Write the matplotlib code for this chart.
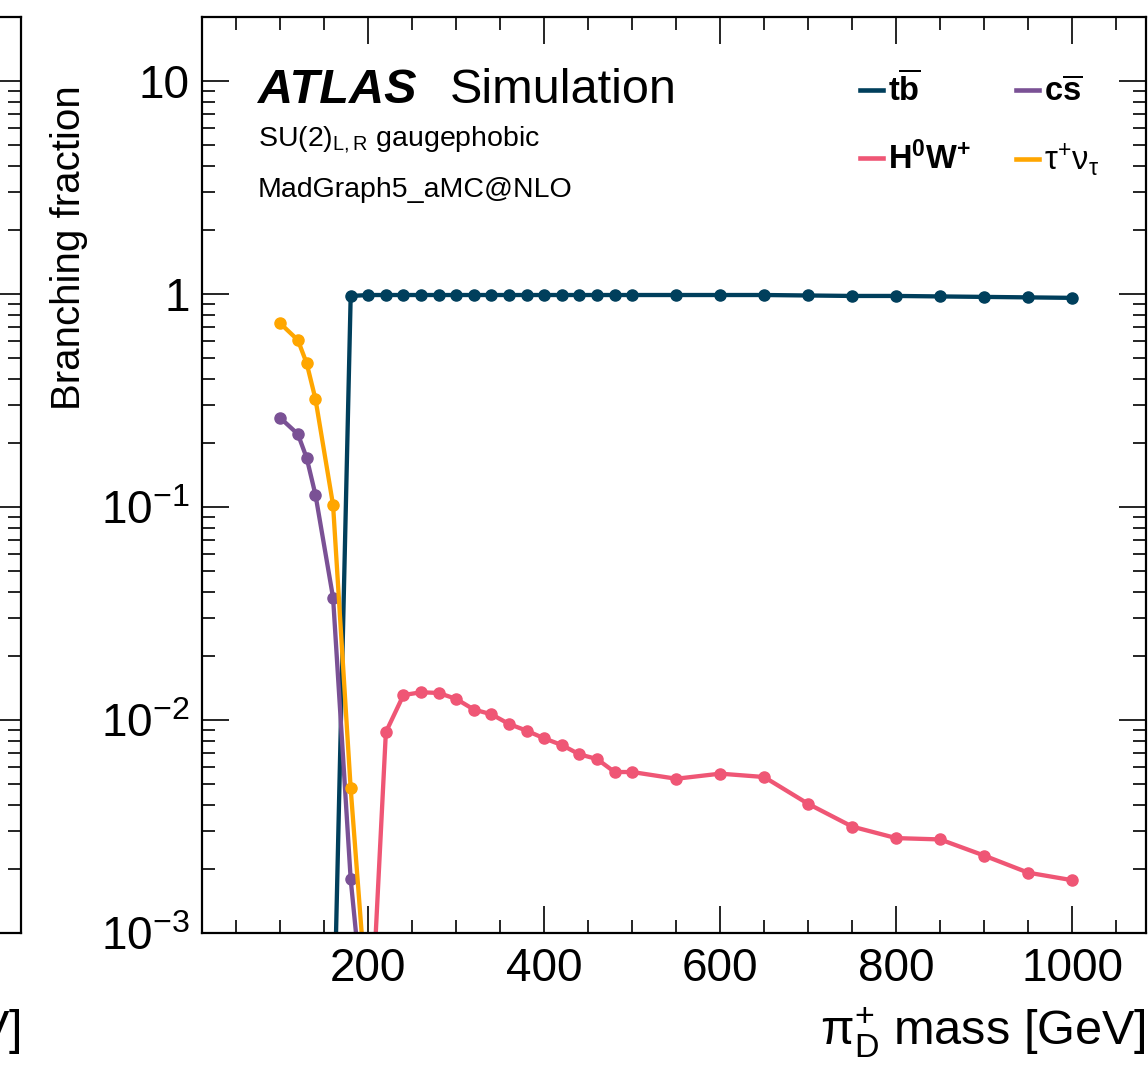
import numpy as np
import matplotlib
matplotlib.use('Agg')
import matplotlib.pyplot as plt
from matplotlib.ticker import FixedLocator, MultipleLocator, FuncFormatter, LogLocator, NullFormatter

plt.rcParams['font.family'] = ['Liberation Sans', 'DejaVu Sans']
plt.rcParams['mathtext.fontset'] = 'custom'
plt.rcParams['mathtext.rm'] = 'Liberation Sans'
plt.rcParams['mathtext.it'] = 'Liberation Sans:italic'
plt.rcParams['mathtext.bf'] = 'Liberation Sans:bold'

# branching fractions
mass_tb = [160, 180, 200, 220, 240, 260, 280, 300, 320, 340, 360, 380, 400, 420, 440,
           460, 480, 500, 550, 600, 650, 700, 750, 800, 850, 900, 950, 1000]
br_tb = [2.5e-4, 0.98, 0.99, 0.99, 0.99, 0.99, 0.99, 0.99, 0.99, 0.99, 0.99, 0.99, 0.99,
         0.99, 0.99, 0.99, 0.99, 0.99, 0.99, 0.99, 0.99, 0.985, 0.98, 0.98, 0.975, 0.97,
         0.965, 0.96]

mass_cs = [100, 120, 130, 140, 160, 180, 200]
br_cs = [0.262, 0.220, 0.170, 0.114, 0.0375, 0.00179, 2.6e-4]

mass_tau = [100, 120, 130, 140, 160, 180, 200]
br_tau = [0.728, 0.608, 0.473, 0.321, 0.102, 0.00477, 3.9e-4]

mass_hw = [200, 220, 240, 260, 280, 300, 320, 340, 360, 380, 400, 420, 440, 460, 480,
           500, 550, 600, 650, 700, 750, 800, 850, 900, 950, 1000]
br_hw = [2e-4, 0.00877, 0.0131, 0.0135, 0.0134, 0.01256, 0.0112, 0.01064, 0.00958,
         0.00891, 0.0082, 0.00763, 0.0069, 0.00656, 0.0057, 0.0057, 0.0053, 0.0056,
         0.0054, 0.00404, 0.00316, 0.00279, 0.00275, 0.00231, 0.00192, 0.00177]

labels = [r'$\mathbf{t\overline{b}}$', r'$\mathbf{H^{0}W^{+}}$',
          r'$\mathbf{c\overline{s}}$', r'$\mathrm{\tau^{+}\nu_{\tau}}$']
colors = ['#003f5c', '#ef5675', '#7a5195', '#ffa600']

ytick_vals = [1e-3, 1e-2, 1e-1, 1, 10]
ytick_labels = [r'$10^{-3}$', r'$10^{-2}$', r'$10^{-1}$', '1', '10']

W, H = 1148, 1066
fig = plt.figure(figsize=(W / 100, H / 100), dpi=100)


def style_axes(ax):
    ax.set_yscale('log')
    ax.set_ylim(1e-3, 20)
    ax.set_xlim(11, 1084)
    ax.xaxis.set_major_locator(MultipleLocator(200))
    ax.xaxis.set_minor_locator(MultipleLocator(50))
    ax.yaxis.set_major_locator(FixedLocator(ytick_vals))
    ax.yaxis.set_minor_locator(LogLocator(base=10, subs=np.arange(2, 10)))
    ax.yaxis.set_minor_formatter(NullFormatter())
    ax.yaxis.set_major_formatter(FuncFormatter(lambda v, p: ytick_labels[ytick_vals.index(v)] if v in ytick_vals else ''))
    ax.tick_params(which='both', direction='in', top=True, right=True, width=1.2)
    ax.tick_params(which='major', length=19.5, labelsize=33)
    ax.tick_params(which='minor', length=9.5)
    ax.tick_params(axis='x', which='major', pad=10)
    ax.tick_params(axis='y', which='major', pad=9)
    for s in ax.spines.values():
        s.set_linewidth(1.6)
    ax.set_xlabel(r'$\mathrm{\pi_{D}^{+}}$ mass [GeV]', fontsize=35, ha='right', va='baseline')
    ax.xaxis.set_label_coords(1.0, -0.122)


# neighbouring panel, mostly cut off on the left
ax0 = fig.add_axes([(21 - 944) / W, (H - 933) / H, 944 / W, 916 / H])
style_axes(ax0)
ax0.tick_params(labelbottom=False, labelleft=False)

ax = fig.add_axes([202 / W, (H - 933) / H, 944 / W, 916 / H])
style_axes(ax)

lw, ms = 3.1, 8
l_tb, = ax.plot(mass_tb, br_tb, 'o-', color=colors[0], lw=lw, ms=ms)
l_hw, = ax.plot(mass_hw, br_hw, 'o-', color=colors[1], lw=lw, ms=ms)
l_cs, = ax.plot(mass_cs, br_cs, 'o-', color=colors[2], lw=lw, ms=ms)
l_tau, = ax.plot(mass_tau, br_tau, 'o-', color=colors[3], lw=lw, ms=ms)

ax.set_ylabel('Branching fraction', fontsize=29, ha='right', va='center')
ax.yaxis.label.set_rotation_mode('anchor')
ax.yaxis.set_label_coords(-0.141, 0.926)

ax.text(0.059, 0.906, 'ATLAS', transform=ax.transAxes, fontsize=35,
        fontweight='bold', fontstyle='italic', va='baseline')
ax.text(0.262, 0.906, 'Simulation', transform=ax.transAxes, fontsize=35, va='baseline')
ax.text(0.059, 0.859, r'SU(2)$_{\mathrm{L,R}}$ gaugephobic', transform=ax.transAxes,
        fontsize=20.5, va='baseline')
ax.text(0.059, 0.804, 'MadGraph5_aMC@NLO', transform=ax.transAxes,
        fontsize=20.5, va='baseline')

leg = ax.legend([l_tb, l_hw, l_cs, l_tau], labels, ncol=2, frameon=False,
                fontsize=23.5, loc='upper left', bbox_to_anchor=(0.697, 0.94),
                handlelength=0.7, handletextpad=0.15, columnspacing=1.4,
                labelspacing=1.03, borderaxespad=0, borderpad=0)
for h in leg.legend_handles:
    h.set_marker('')
    h.set_linewidth(3.3)

fig.savefig('out.png', dpi=100)
